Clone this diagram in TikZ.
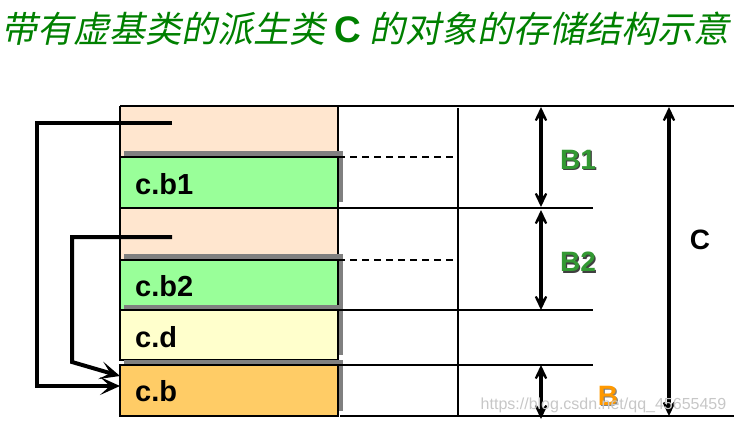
\documentclass[tikz,border=0pt]{standalone}
\usepackage{fontspec}
\setmainfont{Liberation Sans}
\newfontfamily\cjk[FakeSlant=0.2]{Noto Sans CJK SC}
\usetikzlibrary{arrows.meta}
\definecolor{peach}{HTML}{FFE6CF}
\definecolor{lgreen}{HTML}{99FF99}
\definecolor{lyellow}{HTML}{FFFFCC}
\definecolor{lorange}{HTML}{FFCC66}
\definecolor{tgreen}{HTML}{008000}
\definecolor{lblgreen}{HTML}{339933}
\definecolor{lblorange}{HTML}{FF9900}
\definecolor{shadowgrey}{HTML}{808080}
\tikzset{
  cell/.style={draw=black, line width=2.4pt, minimum width=218pt, inner sep=0pt, outer sep=0pt, anchor=north west},
  peachcell/.style={fill=peach, inner sep=0pt, outer sep=0pt, minimum width=218pt, anchor=north west},
  celltext/.style={anchor=west, inner sep=0pt, font=\fontsize{29}{31}\selectfont\bfseries},
  rule/.style={line width=2.2pt},
  dimarrow/.style={line width=3.8pt, {Stealth[length=22pt,width=21pt,inset=14pt]}-{Stealth[length=22pt,width=21pt,inset=14pt]}},
  conn/.style={line width=4pt, -{Stealth[length=20pt,width=18pt,inset=10pt]}},
  dimlabel/.style={inner sep=0pt, font=\fontsize{28}{30}\selectfont\bfseries},
}
\begin{document}
\begin{tikzpicture}[x=1pt,y=-1pt]
\useasboundingbox (0,0) rectangle (734,424);
% title
\node[anchor=base west, inner sep=0pt, text=tgreen] (title) at (1,42)
  {\cjk\fontsize{36}{40}\selectfont 带有虚基类的派生类\hspace{9pt}{\normalfont\bfseries\fontsize{37}{40}\selectfont C}\hspace{9pt}的对象的存储结构示意};
% peach areas
\node[peachcell, minimum height=51pt] (p1) at (120,106) {};
\node[peachcell, minimum height=52pt] (p2) at (120,208) {};
% outline of the peach parts
\draw[line width=2.4pt] (p1.north west) -- (p2.south west) (p1.north east) -- (p2.south east);
% shadows and boxes
\fill[shadowgrey] (124,151) rectangle (342.5,202);
\node[cell, fill=lgreen, minimum height=51pt] (b1) at (120,157) {};
\fill[shadowgrey] (124,254) rectangle (342.5,305);
\node[cell, fill=lgreen, minimum height=50pt] (b2) at (120,260) {};
\fill[shadowgrey] (124,305) rectangle (342.5,355);
\node[cell, fill=lyellow, minimum height=50pt] (d) at (120,310) {};
\fill[shadowgrey] (124,360) rectangle (342.5,411);
\node[cell, fill=lorange, minimum height=51pt] (cb) at (120,365) {};
% cell texts
\node[celltext] (tb1) at (135,184) {c.b1};
\node[celltext] (tb2) at (135,286) {c.b2};
\node[celltext] (td) at (135,337) {c.d};
\node[celltext] (tcb) at (135,391) {c.b};
% right side rules
\coordinate (topR) at (734,106);
\coordinate (botL) at (340,416);
\coordinate (botR) at (734,416);
\coordinate (vtop) at (458,108);
\coordinate (vbot) at (458,416);
\draw[rule] (p1.north west) -- (topR);
\draw[rule] (botL) -- (botR);
\draw[rule] (vtop) -- (vbot);
\coordinate (l1) at (593,208);
\coordinate (l2) at (593,310);
\coordinate (l3) at (593,365);
\coordinate (l3s) at (335,365);
\draw[rule] (b1.south east) -- (l1);
\draw[rule] (d.north east) -- (l2);
\draw[rule] (l3s) -- (l3);
\coordinate (dash1) at (458,157);
\coordinate (dash2) at (458,260);
\draw[line width=1.5pt, dash pattern=on 7pt off 5pt] (b1.north east) -- (dash1);
\draw[line width=1.5pt, dash pattern=on 7pt off 5pt] (b2.north east) -- (dash2);
% dimension arrows
\coordinate (a1t) at (541,107); \coordinate (a1b) at (541,207);
\coordinate (a2t) at (541,210); \coordinate (a2b) at (541,310);
\coordinate (a3t) at (541,365); \coordinate (a3b) at (541,419);
\coordinate (a4t) at (669,107); \coordinate (a4b) at (669,416);
\draw[dimarrow] (a1t) -- (a1b);
\draw[dimarrow] (a2t) -- (a2b);
\draw[dimarrow] (a3t) -- (a3b);
\draw[dimarrow] (a4t) -- (a4b);
% dimension labels
\node[dimlabel, text=black!75] (lB1s) at (579.3,161.3) {B1};
\node[dimlabel, text=lblgreen] (lB1) at (578,160) {B1};
\node[dimlabel, text=black!75] (lB2s) at (579.3,263.3) {B2};
\node[dimlabel, text=lblgreen] (lB2) at (578,262) {B2};
\node[dimlabel, text=black!50] (lBs) at (609.3,397.3) {B};
\node[dimlabel, text=lblorange] (lB) at (608,396) {B};
\node[dimlabel, text=black] (lC) at (700,240) {C};
% pointers
\coordinate (s1) at (172,123);
\coordinate (s2) at (172,237);
\draw[conn] (s1) -- (37,123) -- (37,386) -- ([yshift=4.5pt]cb.west);
\draw[conn] (s2) -- (72,237) -- (72,362) -- ([yshift=14.5pt]cb.west);
% watermark
\node[text=black!22, inner sep=0pt, font=\fontsize{16}{18}\selectfont] (wm) at (603.5,405) {https://blog.csdn.net/qq\_45655459};
\end{tikzpicture}
\end{document}
